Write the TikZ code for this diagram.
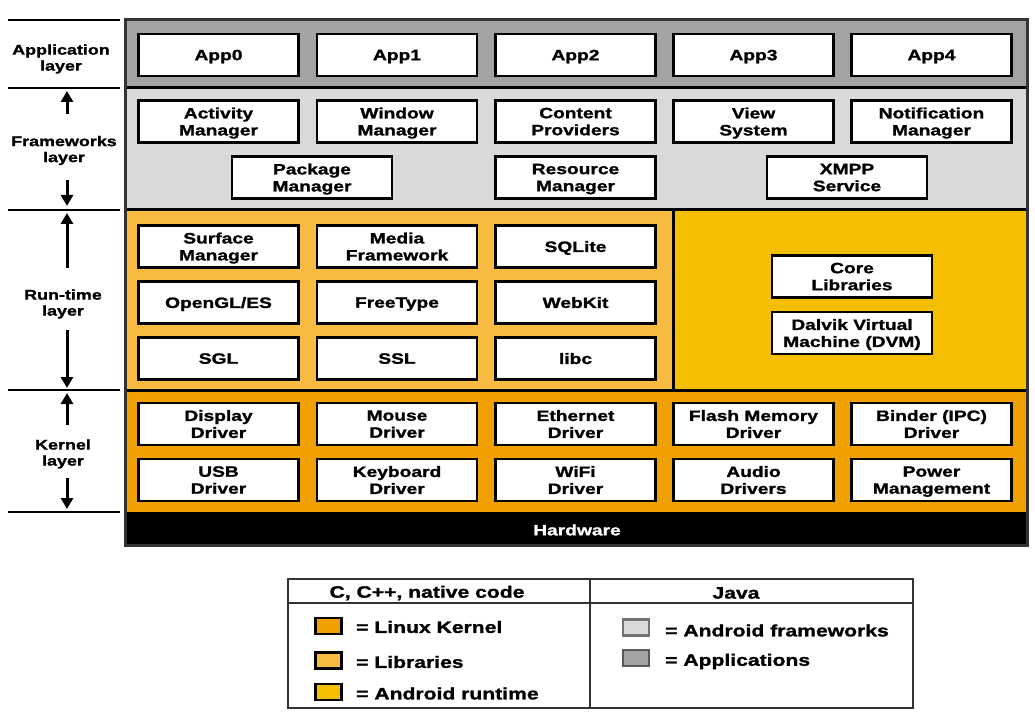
\documentclass[tikz,border=0pt]{standalone}
\usepackage{fontspec}
\usetikzlibrary{arrows.meta}
\newfontfamily\dfont{Liberation Sans}[FakeStretch=1.28, BoldFeatures={FakeBold=1.3}]
\definecolor{appgray}{RGB}{163,163,163}
\definecolor{fwgray}{RGB}{217,217,217}
\definecolor{libor}{RGB}{249,186,64}
\definecolor{rtyel}{RGB}{245,190,0}
\definecolor{kern}{RGB}{240,160,0}
\tikzset{
  box/.style={draw=black, line width=2.6pt, fill=white, minimum width=160pt, minimum height=42pt,
    inner sep=0pt, align=center, text depth=-2pt, font=\dfont\bfseries\fontsize{15}{17}\selectfont},
  sep/.style={line width=3pt, draw=black},
  lablbl/.style={align=center, inner sep=0pt, font=\dfont\bfseries\fontsize{14}{16}\selectfont},
  llines/.style={line width=2pt, draw=black},
  arr/.style={line width=3pt, -{Triangle[width=12pt,length=11pt]}},
  legtxt/.style={anchor=west, inner sep=0pt, font=\dfont\bfseries\fontsize{16.5}{18}\selectfont},
  legsq/.style={line width=2.5pt, minimum width=26pt, minimum height=16pt, inner sep=0pt},
}
\begin{document}
\begin{tikzpicture}[x=1pt,y=-1pt]
\useasboundingbox (0,0) rectangle (1035,719);
% layer backgrounds
\fill[appgray] (125,20) rectangle (1027,88);
\fill[fwgray] (125,88) rectangle (1027,210);
\fill[libor] (125,210) rectangle (673,390);
\fill[rtyel] (673,210) rectangle (1027,390);
\fill[kern] (125,390) rectangle (1027,512);
\fill[black] (125,512) rectangle (1027,545);
\draw[sep] (125,88) -- (1027,88);
\draw[sep] (125,210) -- (1027,210);
\draw[sep] (125,390) -- (1027,390);
\draw[sep] (673,210) -- (673,390);
\draw[line width=3pt, draw=black!80] (125,20) rectangle (1027,545);
% applications
\node[box] (app0) at (218.5,55) {App0};
\node[box] (app1) at (397,55) {App1};
\node[box] (app2) at (575.5,55) {App2};
\node[box] (app3) at (753.5,55) {App3};
\node[box] (app4) at (931.5,55) {App4};
% frameworks
\node[box] (am) at (218.5,121.5) {Activity\\Manager};
\node[box] (wm) at (397,121.5) {Window\\Manager};
\node[box] (cp) at (575.5,121.5) {Content\\Providers};
\node[box] (vs) at (753.5,121.5) {View\\System};
\node[box] (nm) at (931.5,121.5) {Notification\\Manager};
\node[box] (pm) at (312,177.5) {Package\\Manager};
\node[box] (rm) at (575.5,177.5) {Resource\\Manager};
\node[box] (xmpp) at (847,177.5) {XMPP\\Service};
% libraries
\node[box] (sm) at (218.5,246.5) {Surface\\Manager};
\node[box] (mf) at (397,246.5) {Media\\Framework};
\node[box] (sql) at (575.5,246.5) {SQLite};
\node[box] (gl) at (218.5,302.5) {OpenGL/ES};
\node[box] (ft) at (397,302.5) {FreeType};
\node[box] (wk) at (575.5,302.5) {WebKit};
\node[box] (sgl) at (218.5,358.5) {SGL};
\node[box] (ssl) at (397,358.5) {SSL};
\node[box] (libc) at (575.5,358.5) {libc};
% runtime
\node[box] (core) at (852,276.5) {Core\\Libraries};
\node[box] (dvm) at (852,333) {Dalvik Virtual\\Machine (DVM)};
% kernel
\node[box] (dd) at (218.5,424) {Display\\Driver};
\node[box] (md) at (397,424) {Mouse\\Driver};
\node[box] (ed) at (575.5,424) {Ethernet\\Driver};
\node[box] (fmd) at (753.5,424) {Flash Memory\\Driver};
\node[box] (bd) at (931.5,424) {Binder (IPC)\\Driver};
\node[box] (usb) at (218.5,480) {USB\\Driver};
\node[box] (kd) at (397,480) {Keyboard\\Driver};
\node[box] (wifi) at (575.5,480) {WiFi\\Driver};
\node[box] (ad) at (753.5,480) {Audio\\Drivers};
\node[box] (pw) at (931.5,480) {Power\\Management};
% hardware
\node[text=white, inner sep=0pt, font=\dfont\bfseries\fontsize{15}{17}\selectfont] (hw) at (577,530) {Hardware};
% left labels
\draw[llines] (8,20) -- (120,20);
\draw[llines] (8,88) -- (120,88);
\draw[llines] (8,210) -- (120,210);
\draw[llines] (8,390) -- (120,390);
\draw[llines] (8,512) -- (120,512);
\node[lablbl] (lapp) at (61,59) {Application\\layer};
\node[lablbl] (lfw) at (64,150.5) {Frameworks\\layer};
\node[lablbl] (lrt) at (63,304) {Run-time\\layer};
\node[lablbl] (lk) at (63,454) {Kernel\\layer};
\coordinate (fwu0) at (67,114); \coordinate (fwu1) at (67,91);
\coordinate (fwd0) at (67,180); \coordinate (fwd1) at (67,206);
\coordinate (rtu0) at (67,268); \coordinate (rtu1) at (67,213);
\coordinate (rtd0) at (67,330); \coordinate (rtd1) at (67,388);
\coordinate (ku0) at (67,425); \coordinate (ku1) at (67,393);
\coordinate (kd0) at (67,478); \coordinate (kd1) at (67,509);
\draw[arr] (fwu0) -- (fwu1);
\draw[arr] (fwd0) -- (fwd1);
\draw[arr] (rtu0) -- (rtu1);
\draw[arr] (rtd0) -- (rtd1);
\draw[arr] (ku0) -- (ku1);
\draw[arr] (kd0) -- (kd1);
% legend
\draw[line width=2pt, draw=black!80] (288,579) rectangle (913,708);
\draw[line width=2pt, draw=black!80] (288,603) -- (913,603);
\draw[line width=2pt, draw=black!80] (590,579) -- (590,708);
\node[legtxt, anchor=center] (lh1) at (427,593) {C, C++, native code};
\node[legtxt, anchor=center] (lh2) at (736,593) {Java};
\node[legsq, draw=black, fill=kern] (sq1) at (328.5,626) {};
\node[legsq, draw=black, fill=libor] (sq2) at (328.5,660.5) {};
\node[legsq, draw=black, fill=rtyel] (sq3) at (328.5,692) {};
\node[legtxt] (t1) at (356,627) {= Linux Kernel};
\node[legtxt] (t2) at (356,662) {= Libraries};
\node[legtxt] (t3) at (356,693.5) {= Android runtime};
\node[legsq, draw=black!55, fill=fwgray] (sq4) at (636,627.5) {};
\node[legsq, draw=black!65, fill=appgray] (sq5) at (636,658) {};
\node[legtxt] (t4) at (665,630.5) {= Android frameworks};
\node[legtxt] (t5) at (665,661.5) {= Applications};
\end{tikzpicture}
\end{document}
